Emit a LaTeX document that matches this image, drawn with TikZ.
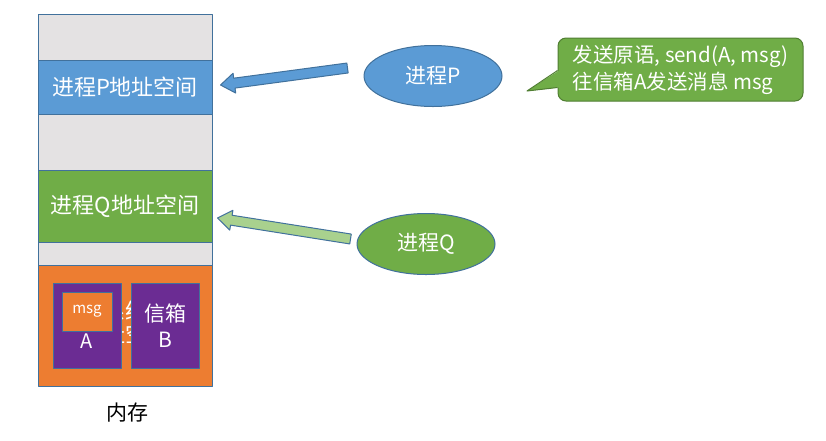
\documentclass[tikz,border=0pt]{standalone}
\usepackage{fontspec}
\setmainfont{Noto Sans CJK SC}
\usetikzlibrary{calc,shapes.geometric}
\newcommand{\Px}{1pt}
\newcommand{\Edge}{1pt}
\newcommand{\Shaft}{5pt}
\newcommand{\Head}{10pt}
\newcommand{\HeadLen}{14pt}
\definecolor{memline}{HTML}{41719C}
\definecolor{memgray}{HTML}{E4E2E3}
\definecolor{pblue}{HTML}{5B9BD5}
\definecolor{qgreen}{HTML}{70AD47}
\definecolor{qpale}{HTML}{A9D18E}
\definecolor{kernel}{HTML}{ED7D31}
\definecolor{mailbox}{HTML}{6B2C93}
\definecolor{bubbleline}{HTML}{507E32}

\tikzset{
  memrow/.style={draw=memline, line width=\Edge, minimum width=174pt, inner sep=0pt,
    text=white, font=\fontsize{22}{26}\selectfont},
  boxrow/.style={draw=memline, line width=\Edge, fill=mailbox, minimum width=68pt,
    minimum height=85pt, inner sep=0pt},
  proc/.style={ellipse, draw=memline, line width=\Edge, minimum width=138pt,
    minimum height=61pt, text=white, font=\fontsize{21}{24}\selectfont}
}

\begin{document}
\begin{tikzpicture}[x=\Px,y=-\Px, line join=round]
  \useasboundingbox (0,0) rectangle (826,440);

  % ---- memory, top to bottom ----------------------------------------------
  \node[memrow, fill=memgray, minimum height=46pt] (top) at (125,37) {};
  \node[memrow, fill=pblue, minimum height=54pt] (rowP) at (125,87) {进程P地址空间};
  \node[memrow, fill=memgray, minimum height=56pt] (gap) at (125,142) {};
  \node[memrow, fill=qgreen, minimum height=72pt] (rowQ) at (125,206) {进程Q地址空间};
  \node[memrow, fill=memgray, minimum height=23pt] (gaplow) at (125,253.5) {};
  \node[memrow, fill=kernel, minimum height=121pt] (kern) at (125,325.5) {};
  % The kernel label: only the strip between the two mail boxes shows.
  \begin{scope}
    \clip (121,266) rectangle (131,385);
    \node[text=white, align=center, font=\fontsize{22}{23}\selectfont] (kernlabel)
      at (125,323) {操作系统内核\\地址空间};
  \end{scope}

  % ---- the two mail boxes -------------------------------------------------
  \node[boxrow] (boxA) at (87,325.5) {};
  \node[draw=memline, line width=\Edge, fill=kernel, minimum width=50pt,
    minimum height=39pt, inner sep=0pt, text=white,
    font=\fontsize{15}{17}\selectfont] (msg) at (87,311.5) {msg};
  \node[text=white, font=\fontsize{20}{22}\selectfont] (labelA) at (87,341) {A};
  \node[boxrow, text=white, align=center, font=\fontsize{21}{26}\selectfont]
    (boxB) at (165,325.5) {信箱\\B};

  \node[font=\fontsize{21}{24}\selectfont] (mem) at (127,413) {内存};

  % ---- the two processes --------------------------------------------------
  \node[proc, fill=pblue] (procP) at (433,76) {进程P};
  \node[proc, fill=qgreen] (procQ) at (426,244) {进程Q};

  % ---- block arrows into the address spaces -------------------------------
  \coordinate (pTail) at ($(procP.west)+(-16,-8)$);
  \coordinate (pTip) at ($(rowP.east)+(8,-2)$);
  \coordinate (pNeck) at ($(pTip)!\HeadLen!(pTail)$);
  \filldraw[fill=pblue, draw=memline, line width=\Edge]
    ($(pTail)!\Shaft!90:(pTip)$) -- ($(pNeck)!\Shaft!90:(pTip)$)
    -- ($(pNeck)!\Head!90:(pTip)$) -- (pTip)
    -- ($(pNeck)!\Head!-90:(pTip)$) -- ($(pNeck)!\Shaft!-90:(pTip)$)
    -- ($(pTail)!\Shaft!-90:(pTip)$) -- cycle;

  \coordinate (qTail) at ($(procQ.west)+(-6,-5)$);
  \coordinate (qTip) at ($(rowQ.east)+(5,12)$);
  \coordinate (qNeck) at ($(qTip)!\HeadLen!(qTail)$);
  \filldraw[fill=qpale, draw=memline, line width=\Edge]
    ($(qTail)!\Shaft!90:(qTip)$) -- ($(qNeck)!\Shaft!90:(qTip)$)
    -- ($(qNeck)!\Head!90:(qTip)$) -- (qTip)
    -- ($(qNeck)!\Head!-90:(qTip)$) -- ($(qNeck)!\Shaft!-90:(qTip)$)
    -- ($(qTail)!\Shaft!-90:(qTip)$) -- cycle;

  % ---- the speech bubble --------------------------------------------------
  \node[draw=bubbleline, line width=\Edge, fill=qgreen, rounded corners=8pt,
    minimum width=245pt, minimum height=63pt, text=white, align=left,
    font=\fontsize{20.5}{27}\selectfont] (bubble) at (680.5,69.5)
    {发送原语, send(A, msg)\\往信箱A发送消息 msg};
  \coordinate (tail) at (527,91);
  \fill[qgreen] ($(bubble.west)+(1.5,1)$) -- (tail) -- ($(bubble.west)+(1.5,18)$) -- cycle;
  \draw[bubbleline, line width=\Edge] ($(bubble.west)+(0,1)$) -- (tail)
    -- ($(bubble.west)+(0,18)$);

\end{tikzpicture}
\end{document}
